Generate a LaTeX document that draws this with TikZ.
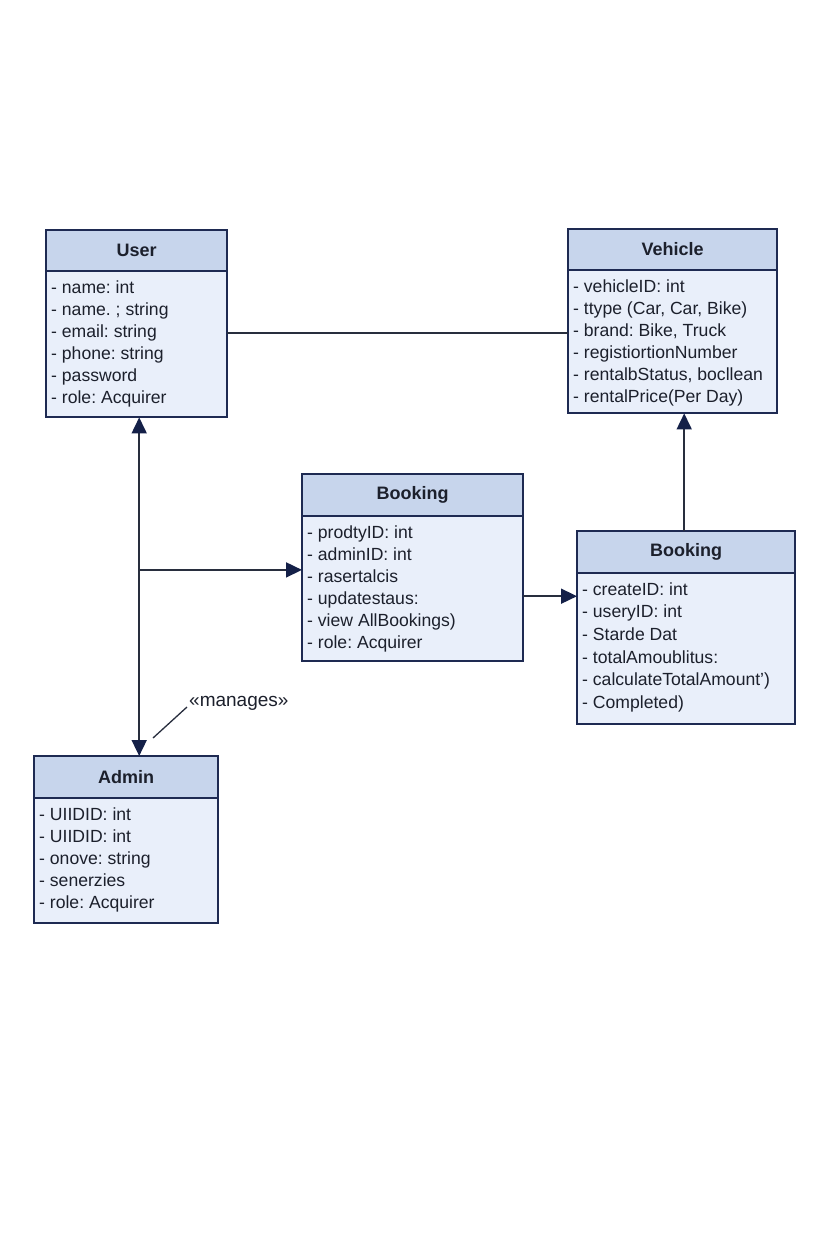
\documentclass[tikz,border=0pt]{standalone}
\usepackage{fontspec}
\setmainfont{Liberation Sans}
\frenchspacing
\usetikzlibrary{arrows.meta,calc}
\definecolor{hdrcol}{RGB}{199,213,236}
\definecolor{bodycol}{RGB}{233,239,250}
\definecolor{bordercol}{RGB}{30,42,82}
\definecolor{linecol}{RGB}{40,46,62}
\definecolor{tipcol}{RGB}{20,32,72}
\definecolor{txtcol}{RGB}{28,32,44}
\newcommand{\umlclass}[8]{%
  \node[clsbox, minimum width=#4pt, minimum height=#5pt, anchor=north west] (#1) at (#2,#3) {};
  \fill[hdrcol] (#1.north west) rectangle ([yshift=-#6pt]#1.north east);
  \draw[bordercol, line width=1.5pt] ([yshift=-#6pt]#1.north west) -- ([yshift=-#6pt]#1.north east);
  \draw[bordercol, line width=2pt] (#1.north west) rectangle (#1.south east);
  \node[titletext] (#1-title) at ($(#1.north)+(0,-#6/2)$) {#7};
  \node[attrtext] (#1-attrs) at ([xshift=5pt, yshift=-#6pt-6.6pt]#1.north west) {\strut #8};
}
\begin{document}
\begin{tikzpicture}[x=1pt,y=1pt,
  clsbox/.style={rectangle, fill=bodycol, draw=none, inner sep=0pt},
  titletext/.style={font=\fontsize{18}{21}\selectfont\bfseries, text=txtcol, inner sep=0pt},
  attrtext/.style={font=\fontsize{17.6}{22}\selectfont, text=txtcol, align=left, anchor=north west, inner sep=0pt},
  conn/.style={draw=linecol, line width=1.7pt},
  tip/.style={-{Triangle[length=16pt,width=15pt,fill=tipcol,color=tipcol]}},
  tips/.style={{Triangle[length=16pt,width=15pt,fill=tipcol,color=tipcol]}-{Triangle[length=16pt,width=15pt,fill=tipcol,color=tipcol]}},
  lbl/.style={font=\fontsize{19}{22}\selectfont, text=txtcol, inner sep=1pt}]
\useasboundingbox (0,0) rectangle (832,-1248);
\fill[white] (0,0) rectangle (832,-1248);

\umlclass{user}{46}{-230}{181}{187}{41}{User}{%
- name: int\\
- name. ; string\\
- email: string\\
- phone: string\\
- password\\
- role: Acquirer}

\umlclass{vehicle}{568}{-229}{209}{184}{41}{Vehicle}{%
- vehicleID: int\\
- ttype (Car, Car, Bike)\\
- brand: Bike, Truck\\
- registiortionNumber\\
- rentalbStatus, bocllean\\
- rentalPrice(Per Day)}

\umlclass{booka}{302}{-474}{221}{187}{42}{Booking}{%
- prodtyID: int\\
- adminID: int\\
- rasertalcis\\
- updatestaus:\\
- view AllBookings)\\
- role: Acquirer}

\umlclass{bookb}{577}{-531}{218}{193}{42}{Booking}{%
- createID: int\\[0.6pt]
- useryID: int\\[0.6pt]
- Starde Dat\\[0.6pt]
- totalAmoublitus:\\[0.6pt]
- calculateTotalAmount')\\[0.6pt]
- Completed)}

\umlclass{admin}{34}{-756}{184}{167}{42}{Admin}{%
- UIIDID: int\\
- UIIDID: int\\
- onove: string\\
- senerzies\\
- role: Acquirer}

% connectors
\draw[conn] ([yshift=-9.5pt]user.east) -- ([yshift=-9.5pt]user.east -| vehicle.west);
\draw[conn, tips] ([xshift=2.5pt]user.south) -- ([xshift=2.5pt]user.south |- admin.north);
\coordinate (junc) at ([xshift=2.5pt,yshift=-152.5pt]user.south);
\draw[conn, tip] (junc) -- (junc -| booka.west);
\draw[conn, tip] ([yshift=-28.5pt]booka.east) -- ([yshift=-28.5pt]booka.east -| bookb.west);
\draw[conn, tip] ([xshift=-2pt]bookb.north) -- ([xshift=-2pt]bookb.north |- vehicle.south);

\node[lbl, anchor=west] (manages) at (188,-703) {«manages»};
\coordinate (mgtail) at (153,-738);
\draw[draw=linecol, line width=1.3pt] (mgtail) -- ([shift={(-1pt,-4pt)}]manages.west);
\end{tikzpicture}
\end{document}
